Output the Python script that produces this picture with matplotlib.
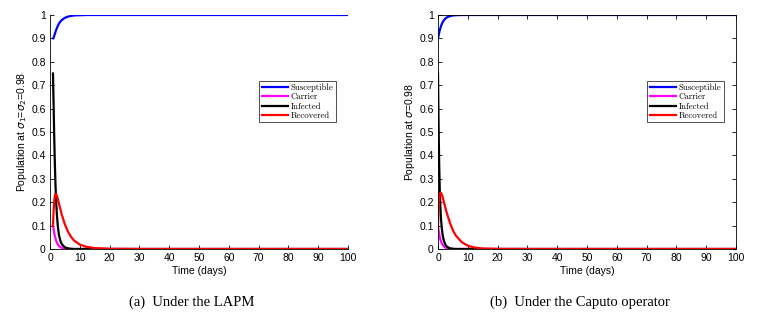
import matplotlib
matplotlib.use("Agg")
import matplotlib.pyplot as plt

# (a) LAPM, time starts at t = 1
t_a = [1, 1.2, 1.4, 1.6, 1.8, 2, 2.3, 2.6, 3, 3.5, 4, 5, 6, 7, 8, 10, 12, 15, 20, 30, 50, 100]
S_a = [0.9, 0.903, 0.91, 0.918, 0.926, 0.934, 0.944, 0.953, 0.963, 0.972, 0.979, 0.988, 0.993,
       0.996, 0.998, 0.999, 1.0, 1.0, 1.0, 1.0, 1.0, 1.0]
C_a = [0.1, 0.085, 0.07, 0.058, 0.047, 0.038, 0.028, 0.02, 0.013, 0.008, 0.004, 0.001, 0.0,
       0.0, 0.0, 0.0, 0.0, 0.0, 0.0, 0.0, 0.0, 0.0]
I_a = [0.75, 0.62, 0.49, 0.38, 0.29, 0.22, 0.15, 0.1, 0.06, 0.034, 0.02, 0.007, 0.003,
       0.001, 0.0, 0.0, 0.0, 0.0, 0.0, 0.0, 0.0, 0.0]
R_a = [0.1, 0.16, 0.2, 0.225, 0.235, 0.235, 0.228, 0.215, 0.195, 0.17, 0.145, 0.105, 0.075,
       0.053, 0.037, 0.019, 0.01, 0.004, 0.001, 0.0, 0.0, 0.0]

# (b) Caputo operator, time starts at t = 0
t_b = [0, 0.2, 0.4, 0.6, 0.8, 1, 1.3, 1.6, 2, 2.5, 3, 4, 5, 6, 8, 10, 12, 15, 20, 30, 50, 100]
S_b = [0.9, 0.912, 0.924, 0.935, 0.944, 0.952, 0.962, 0.97, 0.978, 0.985, 0.99, 0.995, 0.998,
       0.999, 1.0, 1.0, 1.0, 1.0, 1.0, 1.0, 1.0, 1.0]
C_b = [0.1, 0.08, 0.064, 0.051, 0.041, 0.033, 0.024, 0.017, 0.011, 0.006, 0.003, 0.001, 0.0,
       0.0, 0.0, 0.0, 0.0, 0.0, 0.0, 0.0, 0.0, 0.0]
I_b = [0.75, 0.52, 0.36, 0.25, 0.18, 0.13, 0.085, 0.056, 0.034, 0.018, 0.01, 0.003, 0.001,
       0.0, 0.0, 0.0, 0.0, 0.0, 0.0, 0.0, 0.0, 0.0]
R_b = [0.1, 0.17, 0.21, 0.232, 0.24, 0.24, 0.232, 0.22, 0.2, 0.175, 0.152, 0.112, 0.08,
       0.057, 0.029, 0.014, 0.007, 0.002, 0.0005, 0.0, 0.0, 0.0]

labels = ["Susceptible", "Carrier", "Infected", "Recovered"]
colors = ["#0000ff", "#ff00ff", "#000000", "#ff0000"]
x_ticks = list(range(0, 101, 10))
y_ticks = [0, 0.1, 0.2, 0.3, 0.4, 0.5, 0.6, 0.7, 0.8, 0.9, 1]

W, H = 758, 316
fig = plt.figure(figsize=(W / 100, H / 100), dpi=100)

panels = [
    (50, t_a, [S_a, C_a, I_a, R_a], r"Population at $\sigma_1$=$\sigma_2$=0.98", False,
     "(a)  Under the LAPM", 192),
    (438, t_b, [S_b, C_b, I_b, R_b], r"Population at $\sigma$=0.98", True,
     "(b)  Under the Caputo operator", 580),
]

for x0, t, series, ylab, box, caption, cx in panels:
    ax = fig.add_axes([x0 / W, (H - 249) / H, 298 / W, 234 / H])
    for y, c, lab in zip(series, colors, labels):
        ax.plot(t, y, color=c, lw=1.6, label=lab)
    ax.set_xlim(0, 100)
    ax.set_ylim(0, 1)
    ax.set_xticks(x_ticks)
    ax.set_yticks(y_ticks)
    ax.set_yticklabels([f"{v:g}" for v in y_ticks])
    ax.tick_params(direction="in", length=3, width=0.6, labelsize=7.5, pad=3,
                   top=box, right=box)
    for lbl in ax.get_xticklabels() + ax.get_yticklabels():
        lbl.set_family("Liberation Sans")
    for s in ax.spines.values():
        s.set_linewidth(0.6)
    if not box:
        ax.spines["top"].set_visible(False)
        ax.spines["right"].set_visible(False)
    ax.set_xlabel("Time (days)", fontsize=7.5, family="Liberation Sans", labelpad=2)
    ax.set_ylabel(ylab, fontsize=7.5, family="Liberation Sans", labelpad=2)
    leg = ax.legend(loc="upper right", bbox_to_anchor=(0.96, 0.718), fancybox=False,
                    framealpha=1, edgecolor="#333333", prop={"family": "cmr10", "size": 6.3},
                    handlelength=3.0, handletextpad=0.3, labelspacing=0.1,
                    borderpad=0.3, borderaxespad=0)
    leg.get_frame().set_linewidth(0.6)
    fig.text(cx / W, 1 - 302 / H, caption, ha="center", va="center",
             family="Liberation Serif", fontsize=10.5)

fig.savefig("out.png", dpi=100)
